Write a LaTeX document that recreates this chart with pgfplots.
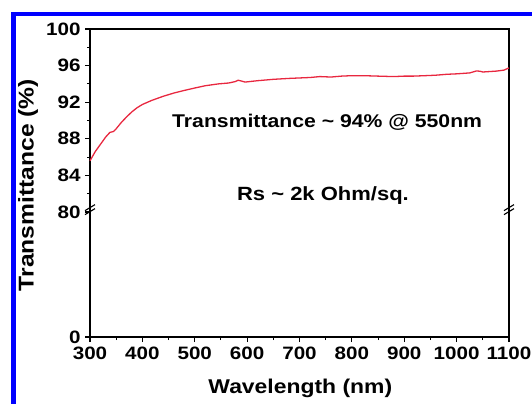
\documentclass[border=0pt]{standalone}
\usepackage{fontspec}
\setmainfont{Liberation Sans}[FakeStretch=1.15]
\usepackage{pgfplots}
\pgfplotsset{compat=1.18}
\usetikzlibrary{calc}
\definecolor{curvered}{RGB}{232,39,63}
\definecolor{frameblue}{RGB}{0,0,255}
\begin{document}
\begin{tikzpicture}[x=1bp,y=1bp]
\path[use as bounding box] (0,0) rectangle (532,403);
\begin{scope}
\clip (0,0) rectangle (532,403);
\draw[frameblue, line width=4.5bp] (13.5,-5) -- (13.5,389) -- (540,389);
\end{scope}
\begin{axis}[
  at={(90bp,66bp)}, anchor=origin,
  scale only axis, width=419bp, height=308bp,
  xmin=300, xmax=1100, ymin=66.34, ymax=100,
  xtick={300,400,...,1100}, minor x tick num=1,
  ytick={66.34,80,84,88,92,96,100},
  yticklabels={0,80,84,88,92,96,100},
  minor ytick={82,86,90,94,98},
  tick pos=left, tick align=outside,
  major tick length=5bp, minor tick length=3bp,
  every tick/.style={black, line width=1.1pt},
  axis line style={black, line width=1.3pt},
  /pgf/number format/assume math mode=true,
  /pgf/number format/set thousands separator={},
  ticklabel style={font=\fontsize{18}{20}\selectfont\bfseries},
  xticklabel style={yshift=-1bp},
  yticklabel style={xshift=-1bp},
  xlabel={Wavelength (nm)},
  ylabel={Transmittance (\%)},
  xlabel style={font=\fontsize{20}{22}\selectfont\bfseries, at={(axis description cs:0.502,-0.1656)}, anchor=center},
  ylabel style={font=\fontsize{21.5}{23}\selectfont\bfseries, at={(axis description cs:-0.148,0.4935)}, anchor=center},
  clip=false,
]
\addplot[curvered, line width=1.3pt] coordinates {
(300,85.6) (305,86.1) (310,86.6) (320,87.4) (330,88.2) (338,88.7) (345,88.8)
(350,89.1) (360,89.8) (370,90.4) (380,90.95) (390,91.4) (400,91.75)
(418,92.2) (440,92.65) (460,93.0) (481,93.3) (500,93.55) (520,93.8)
(545,94.0) (565,94.1) (577,94.25) (583,94.4) (590,94.3) (596,94.2)
(620,94.35) (650,94.5) (680,94.6) (700,94.65) (720,94.7) (739,94.8)
(760,94.75) (780,94.85) (800,94.9) (822,94.9) (850,94.85) (880,94.8)
(900,94.85) (917,94.85) (940,94.9) (960,94.95) (981,95.05) (1000,95.1)
(1025,95.2) (1038,95.42) (1045,95.38) (1050,95.3) (1076,95.4) (1090,95.5)
(1100,95.75)
};
\node[anchor=base, font=\fontsize{18.5}{20}\selectfont\bfseries] at (axis description cs:0.566,0.6786) {Transmittance \textasciitilde\ 94\% @ 550nm};
\node[anchor=base, font=\fontsize{19.2}{21}\selectfont\bfseries] at (axis description cs:0.556,0.4448) {Rs \textasciitilde\ 2k Ohm/sq.};
\draw[black, line width=1.1pt] ($(axis description cs:0,0.4136)+(-5bp,-5bp)$) -- ++(10bp,6bp);
\draw[black, line width=1.1pt] ($(axis description cs:0,0.4136)+(-5bp,-1bp)$) -- ++(10bp,6bp);
\draw[black, line width=1.1pt] ($(axis description cs:1,0.4136)+(-5bp,-5bp)$) -- ++(10bp,6bp);
\draw[black, line width=1.1pt] ($(axis description cs:1,0.4136)+(-5bp,-1bp)$) -- ++(10bp,6bp);
\end{axis}
\end{tikzpicture}
\end{document}
